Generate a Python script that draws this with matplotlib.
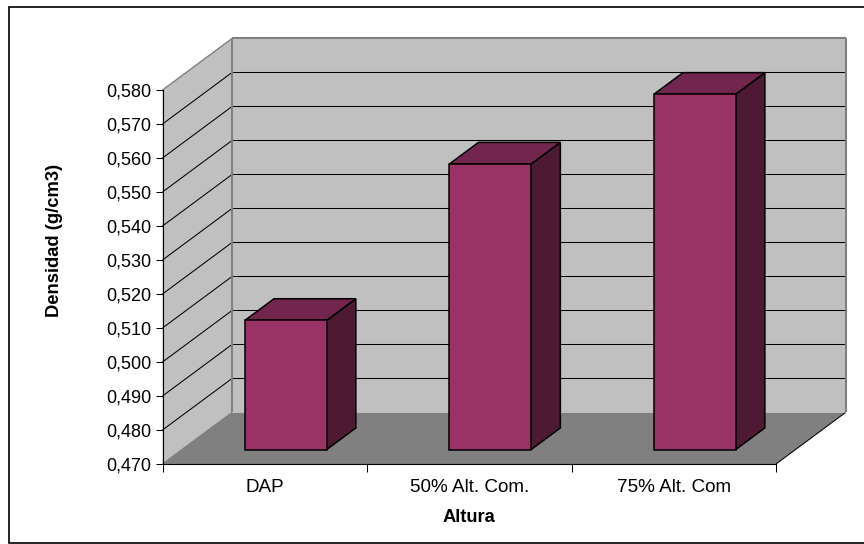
import matplotlib
matplotlib.use("Agg")
import matplotlib.pyplot as plt
from matplotlib.lines import Line2D

categorias = ["DAP", "50% Alt. Com.", "75% Alt. Com"]
densidad = [0.508, 0.554, 0.5745]
ticks_y = [0.47, 0.48, 0.49, 0.50, 0.51, 0.52, 0.53, 0.54, 0.55, 0.56, 0.57, 0.58]
etiquetas_y = ["0,470", "0,480", "0,490", "0,500", "0,510", "0,520",
               "0,530", "0,540", "0,550", "0,560", "0,570", "0,580"]

Y_MIN, Y_MAX = 0.47, 0.58
# desplazamiento de la pared del fondo en unidades de datos
DX, DY = 0.34, 0.01515
ANCHO = 0.40
PROF_INI, PROF_FIN = 0.28, 0.70
C_PARED, C_SUELO, C_BORDE = "#C0C0C0", "#808080", "#808080"
C_BARRA, C_TECHO, C_LADO = "#993366", "#73264D", "#4D1933"

plt.rcParams["font.family"] = ["Liberation Sans", "DejaVu Sans"]

W, H = 864, 544
fig = plt.figure(figsize=(W / 100, H / 100), dpi=100)
ax = fig.add_axes([162.5 / W, 1 - 464 / H, (776 - 162.5) / W, (464 - 90) / H])
ax.set_xlim(0, len(categorias))
ax.set_ylim(Y_MIN, Y_MAX)
ax.patch.set_visible(False)


def p3d(x, y, d):
    # proyección oblicua: d=0 es el plano frontal, d=1 la pared del fondo
    return x + d * DX, y + d * DY


def cara(puntos, color, borde="none", lw=0, z=2):
    xs, ys = zip(*[p3d(*p) for p in puntos])
    ax.fill(xs, ys, facecolor=color, edgecolor=borde, linewidth=lw,
            clip_on=False, zorder=z, joinstyle="miter")


def linea(p1, p2, color="black", lw=0.75, z=3):
    a, b = p3d(*p1), p3d(*p2)
    ax.plot([a[0], b[0]], [a[1], b[1]], color=color, linewidth=lw,
            clip_on=False, zorder=z, solid_capstyle="butt")


n = len(categorias)

# paredes y suelo
cara([(0, Y_MIN, 1), (n, Y_MIN, 1), (n, Y_MAX, 1), (0, Y_MAX, 1)], C_PARED, z=1)
cara([(0, Y_MIN, 0), (0, Y_MIN, 1), (0, Y_MAX, 1), (0, Y_MAX, 0)], C_PARED, z=1)
cara([(0, Y_MIN, 0), (n, Y_MIN, 0), (n, Y_MIN, 1), (0, Y_MIN, 1)], C_SUELO, z=1)

# cuadrícula sobre las dos paredes
for t in ticks_y[1:-1]:
    linea((0, t, 0), (0, t, 1), z=1.5)
    linea((0, t, 1), (n, t, 1), z=1.5)

# aristas de las paredes
linea((0, Y_MAX, 0), (0, Y_MAX, 1), C_BORDE, 1.0, 1.6)
linea((0, Y_MAX, 1), (n, Y_MAX, 1), C_BORDE, 1.5, 1.6)
linea((0, Y_MIN, 1), (0, Y_MAX, 1), C_BORDE, 1.5, 1.6)
linea((n, Y_MIN, 1), (n, Y_MAX, 1), C_BORDE, 1.5, 1.6)
linea((0, Y_MIN, 0), (0, Y_MIN, 1), C_BORDE, 1.0, 1.6)
linea((n, Y_MIN, 0), (n, Y_MIN, 1), "black", 0.75, 1.6)

# barras
for i, v in enumerate(densidad):
    x0 = i + 0.5 + 0.0075 - ANCHO / 2
    x1 = x0 + ANCHO
    cara([(x1, Y_MIN, PROF_INI), (x1, Y_MIN, PROF_FIN), (x1, v, PROF_FIN), (x1, v, PROF_INI)],
         C_LADO, "black", 1.1)
    cara([(x0, v, PROF_INI), (x1, v, PROF_INI), (x1, v, PROF_FIN), (x0, v, PROF_FIN)],
         C_TECHO, "black", 1.1)
    cara([(x0, Y_MIN, PROF_INI), (x1, Y_MIN, PROF_INI), (x1, v, PROF_INI), (x0, v, PROF_INI)],
         C_BARRA, "black", 1.1)

# ejes
for lado in ["top", "right"]:
    ax.spines[lado].set_visible(False)
for lado in ["left", "bottom"]:
    ax.spines[lado].set_linewidth(0.8)
    ax.spines[lado].set_zorder(4)

ax.set_yticks(ticks_y)
ax.set_yticklabels(etiquetas_y)
ax.tick_params(axis="y", length=5.4, width=0.75, pad=2.5, labelsize=13, colors="black")
ax.set_xticks(range(n + 1))
ax.set_xticklabels([])
ax.set_xticks([i + 0.5 for i in range(n)], minor=True)
ax.set_xticklabels(categorias, minor=True, fontsize=13.6)
ax.tick_params(axis="x", which="major", length=5.4, width=0.75)
ax.tick_params(axis="x", which="minor", length=0, pad=11)

fig.text(54.5 / W, 1 - 240.5 / H, "Densidad (g/cm3)", rotation=90, fontsize=13.2,
         fontweight="bold", ha="center", va="center")
fig.text(468.5 / W, 1 - 517.5 / H, "Altura", fontsize=13.2, fontweight="bold",
         ha="center", va="center")

# marco exterior, el lado derecho queda fuera de la imagen
xi, xd = 8.5 / W, 1.01
ys, yi = 1 - 6.5 / H, 1 - 543 / H
fig.add_artist(Line2D([xd, xi, xi, xd], [ys, ys, yi, yi], color="black",
                      linewidth=1.2, solid_joinstyle="miter"))

fig.savefig("out.png", dpi=100)
